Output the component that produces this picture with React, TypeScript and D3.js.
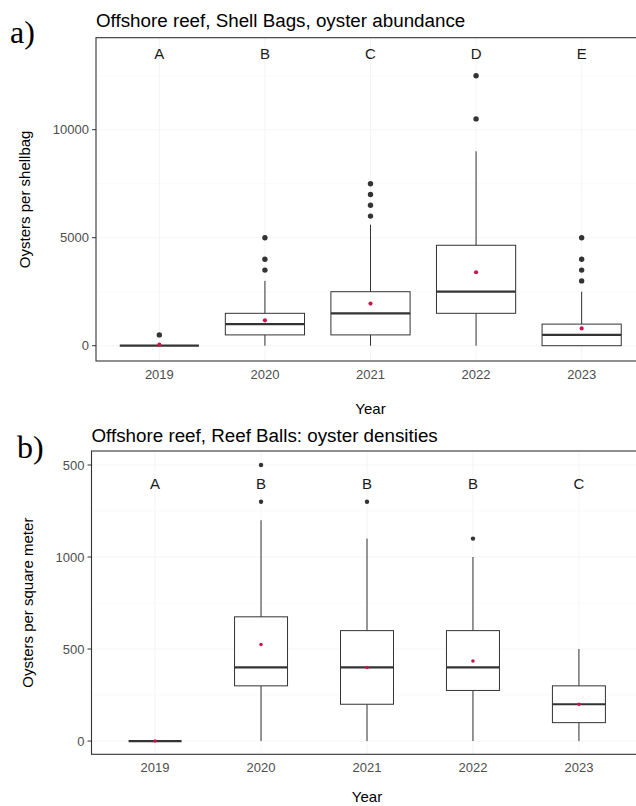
import React from "react";
import * as d3 from "d3";

const years = ["2019", "2020", "2021", "2022", "2023"];

// Panel a) Shell Bags
const sbLetters = ["A", "B", "C", "D", "E"];
const sbLower = [0, 0, 0, 0, 0];
const sbQ1 = [0, 500, 500, 1500, 0];
const sbMedian = [0, 1000, 1500, 2500, 500];
const sbQ3 = [0, 1500, 2500, 4650, 1000];
const sbUpper = [0, 3000, 5600, 9000, 2500];
const sbMean = [50, 1175, 1950, 3400, 800];
const sbOutliers = [[500], [3500, 4000, 5000], [6000, 6500, 7000, 7500], [10500, 12500], [3000, 3500, 4000, 5000]];
const sbTicks = [0, 5000, 10000];
const sbTickLabels = ["0", "5000", "10000"];
const sbLetterY = 13500;

// Panel b) Reef Balls
const rbLetters = ["A", "B", "B", "B", "C"];
const rbLower = [0, 0, 0, 0, 0];
const rbQ1 = [0, 300, 200, 275, 100];
const rbMedian = [0, 400, 400, 400, 200];
const rbQ3 = [0, 675, 600, 600, 300];
const rbUpper = [0, 1200, 1100, 1000, 500];
const rbMean = [0, 525, 400, 435, 200];
const rbOutliers = [[], [1300, 1500], [1300], [1100], []];
const rbTicks = [0, 500, 1000, 1500];
const rbTickLabels = ["0", "500", "1000", "500"];
const rbLetterY = 1400;

const SANS = "'Liberation Sans', Arial, sans-serif";
const SERIF = "'Liberation Serif', 'Times New Roman', serif";
const DARK = "#333333";
const MEAN = "#c8174a";

type PanelProps = {
  left: number; right: number; top: number; bottom: number;
  yDomain: [number, number];
  boxWidth: number;
  lower: number[]; q1: number[]; median: number[]; q3: number[]; upper: number[]; mean: number[];
  outliers: number[][];
  ticks: number[]; tickLabels: string[];
  letters: string[]; letterY: number;
  title: string; tag: string; tagX: number; tagY: number; titleY: number;
  yTitle: string; yTitleX: number; xTitleY: number; xLabelY: number;
  outR: number; meanR: number;
};

function Panel(p: PanelProps) {
  const x = d3.scalePoint<string>().domain(years).range([p.left, p.right]).padding(0.6);
  const y = d3.scaleLinear().domain(p.yDomain).range([p.bottom, p.top]);
  const step = x.step();
  const bw = step * p.boxWidth;
  const minor: number[] = [];
  for (let i = 0; i < p.ticks.length; i++) {
    const d = p.ticks.length > 1 ? p.ticks[1] - p.ticks[0] : 0;
    minor.push(p.ticks[i] + d / 2);
  }
  const xMid = (p.left + p.right) / 2;
  const yMid = (p.top + p.bottom) / 2;
  return (
    <g>
      <text x={p.tagX} y={p.tagY} fontFamily={SERIF} fontSize={32} fill="#000">{p.tag}</text>
      <text x={p.left} y={p.titleY} fontFamily={SANS} fontSize={18.8} fill="#000">{p.title}</text>
      {/* grid */}
      {minor.filter(v => y(v) > p.top && y(v) < p.bottom).map((v, i) => (
        <line key={"mi" + i} x1={p.left} x2={p.right} y1={y(v)} y2={y(v)} stroke="#f6f6f6" strokeWidth={0.6} />
      ))}
      {p.ticks.map((v, i) => (
        <line key={"ma" + i} x1={p.left} x2={p.right} y1={y(v)} y2={y(v)} stroke="#f1f1f1" strokeWidth={0.8} />
      ))}
      {years.map((yr) => (
        <line key={"vg" + yr} x1={x(yr)!} x2={x(yr)!} y1={p.top} y2={p.bottom} stroke="#f1f1f1" strokeWidth={0.8} />
      ))}
      {/* boxes */}
      {years.map((yr, i) => {
        const cx = x(yr)!;
        return (
          <g key={"b" + yr}>
            <line x1={cx} x2={cx} y1={y(p.upper[i])} y2={y(p.q3[i])} stroke={DARK} strokeWidth={1} />
            <line x1={cx} x2={cx} y1={y(p.q1[i])} y2={y(p.lower[i])} stroke={DARK} strokeWidth={1} />
            <rect x={cx - bw / 2} y={y(p.q3[i])} width={bw} height={Math.max(0, y(p.q1[i]) - y(p.q3[i]))}
              fill="#fff" stroke={DARK} strokeWidth={1} />
            <line x1={cx - bw / 2} x2={cx + bw / 2} y1={y(p.median[i])} y2={y(p.median[i])} stroke={DARK} strokeWidth={2.2} />
            {p.outliers[i].map((v, j) => (
              <circle key={j} cx={cx} cy={y(v)} r={p.outR} fill={DARK} />
            ))}
            <circle cx={cx} cy={y(p.mean[i])} r={p.meanR} fill={MEAN} />
            <text x={cx} y={y(p.letterY)} dy="0.36em" textAnchor="middle" fontFamily={SANS} fontSize={15} fill="#1a1a1a">{p.letters[i]}</text>
          </g>
        );
      })}
      {/* border */}
      <rect x={p.left} y={p.top} width={p.right - p.left} height={p.bottom - p.top} fill="none" stroke={DARK} strokeWidth={1.1} />
      {/* y axis */}
      {p.ticks.map((v, i) => (
        <g key={"yt" + i}>
          <line x1={p.left - 4} x2={p.left} y1={y(v)} y2={y(v)} stroke={DARK} strokeWidth={1} />
          <text x={p.left - 7} y={y(v)} dy="0.36em" textAnchor="end" fontFamily={SANS} fontSize={13} fill="#4d4d4d">{p.tickLabels[i]}</text>
        </g>
      ))}
      {years.map((yr) => (
        <text key={"xl" + yr} x={x(yr)!} y={p.xLabelY} textAnchor="middle" fontFamily={SANS} fontSize={13} fill="#4d4d4d">{yr}</text>
      ))}
      <text x={xMid} y={p.xTitleY} textAnchor="middle" fontFamily={SANS} fontSize={15} fill="#000">Year</text>
      <text transform={`translate(${p.yTitleX},${yMid}) rotate(-90)`} textAnchor="middle" dy="0.36em" fontFamily={SANS} fontSize={15} fill="#000">{p.yTitle}</text>
    </g>
  );
}

export default function App() {
  return (
    <svg width={636} height={806} style={{ position: "absolute", left: 0, top: 0, background: "#fff" }}>
      <rect x={0} y={0} width={636} height={806} fill="#fff" />
      <Panel
        left={96} right={645} top={37.7} bottom={361}
        yDomain={[-708, 14259]} boxWidth={0.75}
        lower={sbLower} q1={sbQ1} median={sbMedian} q3={sbQ3} upper={sbUpper} mean={sbMean}
        outliers={sbOutliers} ticks={sbTicks} tickLabels={sbTickLabels}
        letters={sbLetters} letterY={sbLetterY}
        title="Offshore reef, Shell Bags, oyster abundance" tag="a)" tagX={10} tagY={43} titleY={27}
        yTitle="Oysters per shellbag" yTitleX={25} xTitleY={414} xLabelY={379}
        outR={2.7} meanR={2.1}
      />
      <Panel
        left={91.5} right={642.5} top={451} bottom={754.3}
        yDomain={[-72, 1576]} boxWidth={0.5}
        lower={rbLower} q1={rbQ1} median={rbMedian} q3={rbQ3} upper={rbUpper} mean={rbMean}
        outliers={rbOutliers} ticks={rbTicks} tickLabels={rbTickLabels}
        letters={rbLetters} letterY={rbLetterY}
        title="Offshore reef, Reef Balls: oyster densities" tag="b)" tagX={17} tagY={458} titleY={441.7}
        yTitle="Oysters per square meter" yTitleX={28} xTitleY={802} xLabelY={771.7}
        outR={2.2} meanR={1.8}
      />
    </svg>
  );
}
